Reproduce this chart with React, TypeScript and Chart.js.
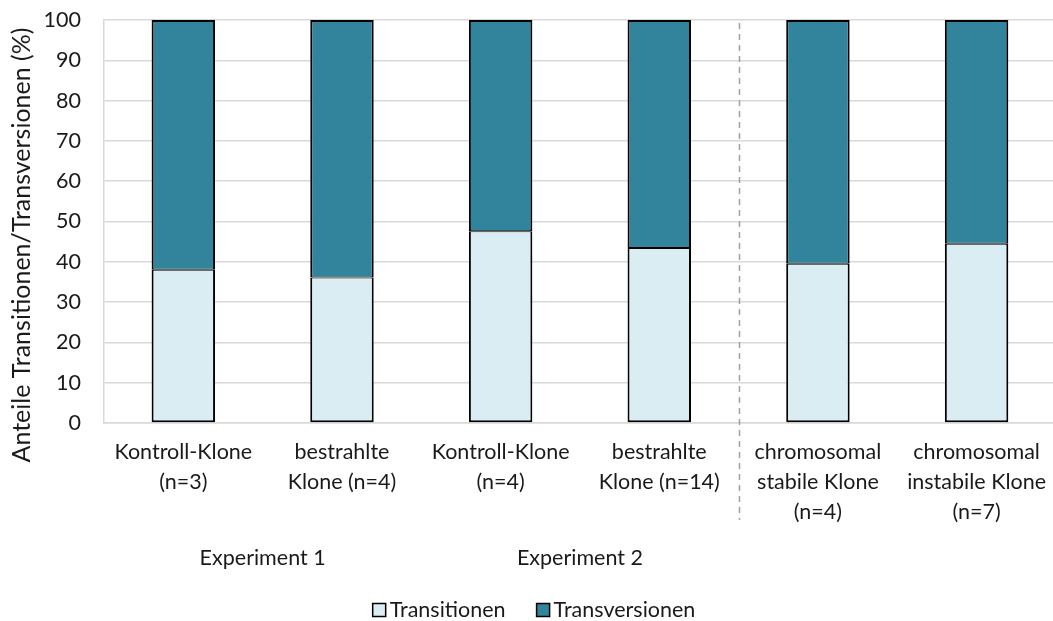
import React, { useEffect, useRef } from "react";
import { Chart, registerables } from "chart.js";

Chart.register(...registerables);

// Category labels (multi-line)
const categories: string[][] = [
  ["Kontroll-Klone", "(n=3)"],
  ["bestrahlte", "Klone (n=4)"],
  ["Kontroll-Klone", "(n=4)"],
  ["bestrahlte", "Klone (n=14)"],
  ["chromosomal", "stabile Klone", "(n=4)"],
  ["chromosomal", "instabile Klone", "(n=7)"],
];

// Shares in percent
const transitionen = [38.0, 36.1, 47.6, 43.4, 39.5, 44.5];
const transversionen = [62.0, 63.9, 52.4, 56.6, 60.5, 55.5];

const yTicks = [0, 10, 20, 30, 40, 50, 60, 70, 80, 90, 100];
const yTitle = "Anteile Transitionen/Transversionen (%)";

// Experiment groups: label plus first/last category index
const groupLabels = ["Experiment 1", "Experiment 2"];
const groupStart = [0, 2];
const groupEnd = [1, 3];

// Dashed separator drawn after this category index
const dividerAfter = 3;

const FONT = "Lato, 'Open Sans', sans-serif";
const FONT_SIZE = 21.5;
const TITLE_SIZE = 25;
const TEXT_COLOR = "#1a1a1a";
const GRID_COLOR = "#d9d9d9";

const extrasPlugin = {
  id: "extras",
  afterDraw(chart: any) {
    const { ctx, chartArea, scales } = chart;
    const x = scales.x;
    ctx.save();

    // y axis title, rotated
    ctx.save();
    ctx.translate(22, chartArea.bottom - 178);
    ctx.rotate(-Math.PI / 2);
    ctx.font = `${TITLE_SIZE}px ${FONT}`;
    ctx.fillStyle = TEXT_COLOR;
    ctx.textAlign = "center";
    ctx.textBaseline = "middle";
    ctx.fillText(yTitle, 0, 0);
    ctx.restore();

    // dashed separator between the experiment groups and the chromosomal groups
    const dx = Math.round((x.getPixelForValue(dividerAfter) + x.getPixelForValue(dividerAfter + 1)) / 2) + 0.5;
    ctx.strokeStyle = "#a0a0a0";
    ctx.lineWidth = 1.5;
    ctx.setLineDash([6, 5]);
    ctx.beginPath();
    ctx.moveTo(dx, chartArea.top + 3);
    ctx.lineTo(dx, chartArea.bottom + 97);
    ctx.stroke();
    ctx.setLineDash([]);

    // group captions
    ctx.font = `${FONT_SIZE}px ${FONT}`;
    ctx.fillStyle = TEXT_COLOR;
    ctx.textAlign = "center";
    ctx.textBaseline = "middle";
    groupLabels.forEach((label, i) => {
      const cx = (x.getPixelForValue(groupStart[i]) + x.getPixelForValue(groupEnd[i])) / 2;
      ctx.fillText(label, cx, chartArea.bottom + 135);
    });

    // legend
    const box = 13;
    const boxGap = 4;
    const itemGap = 31;
    const items = chart.data.datasets.map((ds: any) => ({
      label: ds.label as string,
      color: ds.backgroundColor as string,
      w: ctx.measureText(ds.label).width,
    }));
    const total = items.reduce((s: number, it: any) => s + box + boxGap + it.w, 0) + itemGap * (items.length - 1);
    let lx = 534 - total / 2;
    const ly = chartArea.bottom + 187;
    ctx.textAlign = "left";
    items.forEach((it: any) => {
      ctx.fillStyle = it.color;
      ctx.fillRect(lx, ly - box / 2, box, box);
      ctx.strokeStyle = "#000";
      ctx.lineWidth = 1.5;
      ctx.strokeRect(lx, ly - box / 2, box, box);
      ctx.fillStyle = TEXT_COLOR;
      ctx.fillText(it.label, lx + box + boxGap, ly);
      lx += box + boxGap + it.w + itemGap;
    });

    ctx.restore();
  },
};

export default function App() {
  const canvasRef = useRef<HTMLCanvasElement | null>(null);

  useEffect(() => {
    if (!canvasRef.current) return;
    const chart = new Chart(canvasRef.current, {
      type: "bar",
      data: {
        labels: categories,
        datasets: [
          {
            label: "Transitionen",
            data: transitionen,
            backgroundColor: "#daedf2",
            borderColor: "#000000",
            borderWidth: { left: 2, right: 2, bottom: 2, top: 1 },
            borderSkipped: false,
          },
          {
            label: "Transversionen",
            data: transversionen,
            backgroundColor: "#31849b",
            borderColor: "#000000",
            borderWidth: { left: 2, right: 2, bottom: 1, top: 2 },
            borderSkipped: false,
          },
        ],
      },
      options: {
        responsive: false,
        animation: false,
        devicePixelRatio: 1,
        layout: { padding: { top: 20, left: 0, right: 0, bottom: 0 } },
        datasets: {
          bar: { barPercentage: 0.4, categoryPercentage: 1 },
        },
        plugins: {
          legend: { display: false },
          tooltip: { enabled: false },
        },
        scales: {
          x: {
            stacked: true,
            grid: { display: false, drawTicks: false },
            border: { display: true, color: GRID_COLOR, width: 1.5 },
            ticks: {
              padding: 14,
              maxRotation: 0,
              autoSkip: false,
              color: TEXT_COLOR,
              font: { family: FONT, size: FONT_SIZE, lineHeight: 30 / FONT_SIZE },
            },
            afterFit: (s: any) => {
              s.height = 198;
            },
          },
          y: {
            stacked: true,
            min: 0,
            max: 100,
            afterBuildTicks: (s: any) => {
              s.ticks = yTicks.map((v) => ({ value: v }));
            },
            grid: { color: GRID_COLOR, lineWidth: 1.5, drawTicks: false },
            border: { display: true, color: GRID_COLOR, width: 1.5 },
            ticks: {
              padding: 23,
              color: TEXT_COLOR,
              font: { family: FONT, size: FONT_SIZE },
            },
            afterFit: (s: any) => {
              s.width = 104;
              s.paddingTop = 0;
              s.paddingBottom = 0;
            },
          },
        },
      },
      plugins: [extrasPlugin],
    });
    return () => chart.destroy();
  }, []);

  return (
    <div
      style={{
        position: "absolute",
        left: 0,
        top: 0,
        width: 1053,
        height: 621,
        overflow: "hidden",
        background: "#fff",
      }}
    >
      <canvas ref={canvasRef} width={1060} height={621} style={{ display: "block" }} />
    </div>
  );
}
